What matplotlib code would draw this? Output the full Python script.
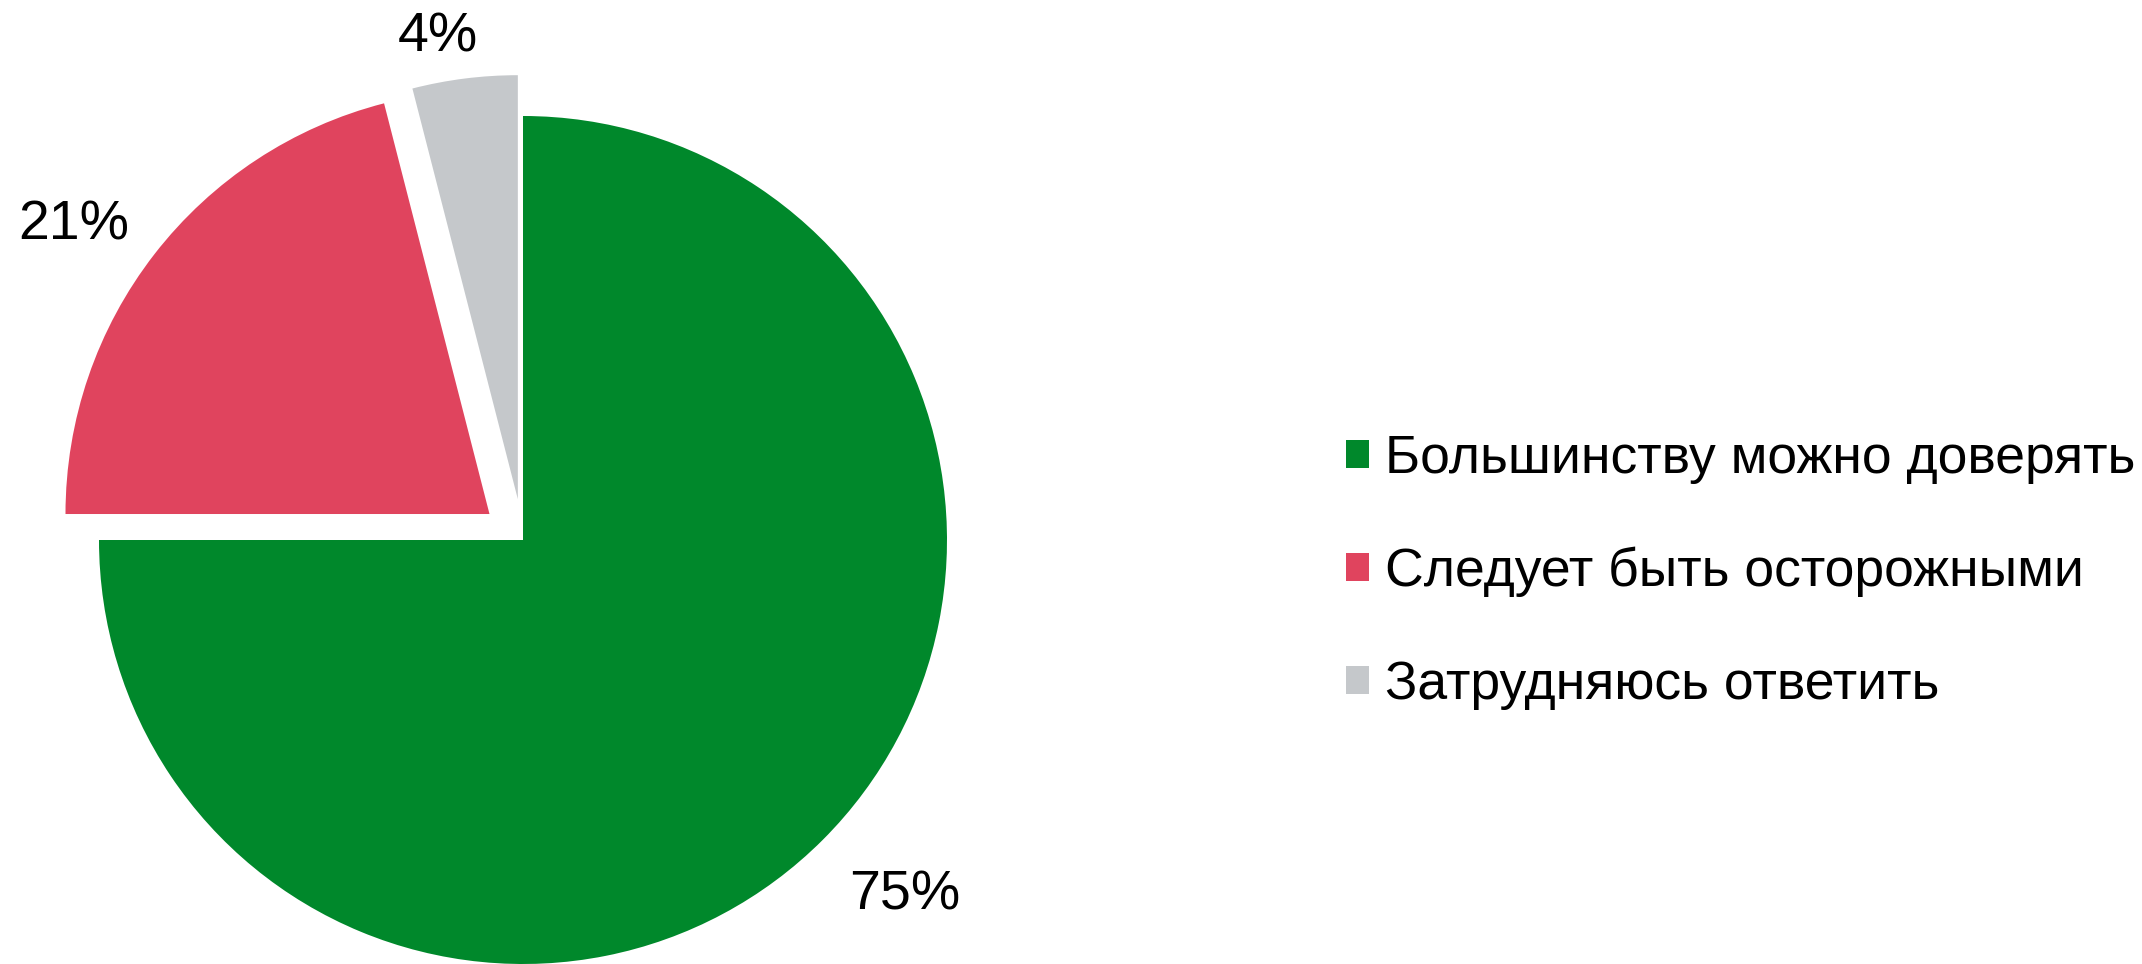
import numpy as np
import matplotlib.pyplot as plt

labels = ['Большинству можно доверять', 'Следует быть осторожными', 'Затрудняюсь ответить']
values = [75, 21, 4]
colors = ['#00882B', '#E0445E', '#C5C8CB']
explode = [0, 0.1, 0.097]
label_dist = [1.22, 1.2, 1.12]

plt.rcParams['font.family'] = ['Liberation Sans', 'DejaVu Sans']

fig = plt.figure(figsize=(21.42, 9.64), dpi=100)
ax = fig.add_axes([0, 0, 1, 1])

wedges, texts, autotexts = ax.pie(values, colors=colors, explode=explode,
                                  startangle=90, counterclock=False,
                                  autopct='%d%%', pctdistance=1.2,
                                  textprops={'fontsize': 40, 'color': 'black'},
                                  wedgeprops={'linewidth': 0})

# подписи снаружи, у каждой своё расстояние; чуть повернуты против часовой
for w, t, d in zip(wedges, autotexts, label_dist):
    mid = np.deg2rad((w.theta1 + w.theta2) / 2 + 2.5)
    cx, cy = w.center
    t.set_position((cx + d * w.r * np.cos(mid), cy + d * w.r * np.sin(mid)))
    t.set_va('center_baseline')

# одна единица данных = 424 px, центр круга в (523, 424) px
ax.set_xlim(-523 / 424, (2142 - 523) / 424)
ax.set_ylim(-1, 540 / 424)
ax.set_aspect('auto')
ax.axis('off')

fig.legend(wedges, labels, loc='center left', bbox_to_anchor=(1346 / 2142, 392 / 964),
           frameon=False, fontsize=38.5, borderpad=0, borderaxespad=0,
           handlelength=0.43, handleheight=0.43, handletextpad=0.3, labelspacing=1.18)

fig.savefig('out.png', dpi=100)
